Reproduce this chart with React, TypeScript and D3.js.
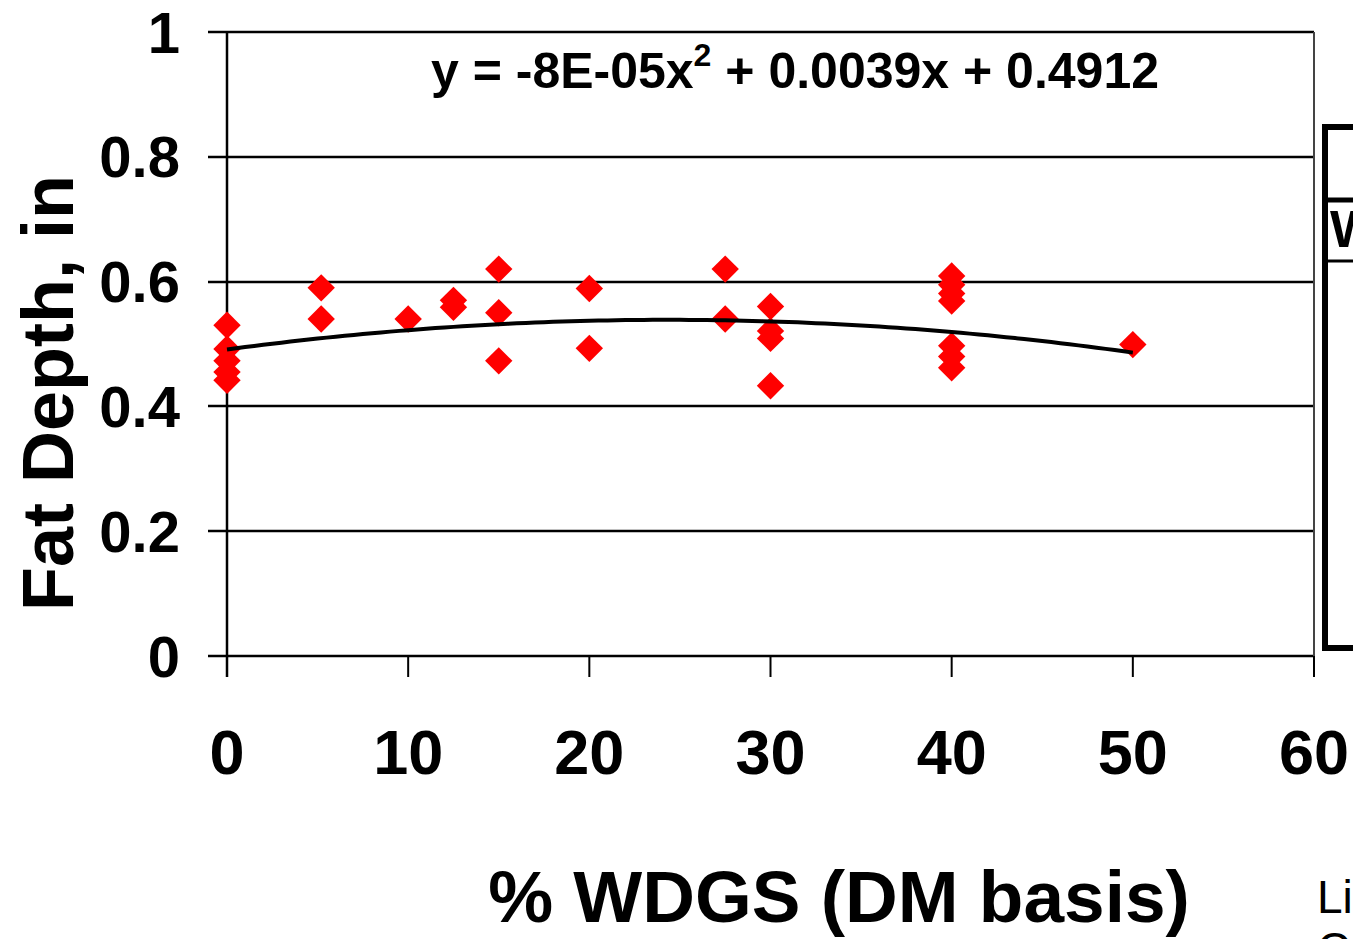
import React from "react";
import * as d3 from "d3";

// % WDGS inclusion (DM basis) for each observation
const wdgs: number[] = [
  0, 0, 0, 0, 0,
  5.2, 5.2,
  10,
  12.5, 12.5,
  15, 15, 15,
  20, 20,
  27.5, 27.5,
  30, 30, 30, 30,
  40, 40, 40, 40, 40, 40, 40,
  50,
];

// Fat depth (in) for each observation
const fatDepth: number[] = [
  0.53, 0.492, 0.473, 0.455, 0.442,
  0.59, 0.54,
  0.54,
  0.57, 0.559,
  0.62, 0.55, 0.473,
  0.589, 0.493,
  0.62, 0.54,
  0.56, 0.521, 0.509, 0.433,
  0.609, 0.595, 0.581, 0.569, 0.497, 0.48, 0.462,
  0.499,
];

// Quadratic trend: y = a x^2 + b x + c
const trendCoef = { a: -8e-5, b: 0.0039, c: 0.4912 };
const trendRange: [number, number] = [0, 50];

const xTicks: number[] = [0, 10, 20, 30, 40, 50, 60];
const yTicks: number[] = [0, 0.2, 0.4, 0.6, 0.8, 1];

const FONT = "'Liberation Sans', Arial, sans-serif";

export default function App() {
  const W = 1353;
  const H = 939;
  const x = d3.scaleLinear().domain([0, 60]).range([227, 1314]);
  const y = d3.scaleLinear().domain([0, 1]).range([656, 32]);
  const yr = (v: number) => Math.round(y(v));

  const trendPts = d3
    .range(trendRange[0], trendRange[1] + 0.001, 0.5)
    .map((v) => [v, trendCoef.a * v * v + trendCoef.b * v + trendCoef.c] as [number, number]);
  const trendPath = d3
    .line<[number, number]>()
    .x((d) => x(d[0]))
    .y((d) => y(d[1]))(trendPts) as string;

  const diamond = d3.symbol().type(d3.symbolSquare).size(375)() as string;

  const fmtY = (v: number) => (v === 0 ? "0" : v === 1 ? "1" : d3.format(".1f")(v));

  return (
    <svg
      width={W}
      height={H}
      style={{ position: "absolute", left: 0, top: 0, background: "#fff" }}
      fontFamily={FONT}
    >
      <rect x={0} y={0} width={W} height={H} fill="#fff" />

      {/* horizontal gridlines with outward ticks */}
      {yTicks.map((t) => (
        <line
          key={"g" + t}
          x1={208}
          x2={x(60)}
          y1={yr(t)}
          y2={yr(t)}
          stroke="#000"
          strokeWidth={2.5}
        />
      ))}

      {/* right edge of plot area */}
      <line x1={x(60)} x2={x(60)} y1={y(1)} y2={677} stroke="#444" strokeWidth={2} />

      {/* y axis */}
      <line x1={x(0)} x2={x(0)} y1={y(1)} y2={677} stroke="#000" strokeWidth={2.5} />

      {/* x ticks */}
      {xTicks.map((t) => (
        <line key={"xt" + t} x1={x(t)} x2={x(t)} y1={y(0)} y2={677} stroke="#000" strokeWidth={2} />
      ))}

      {/* y tick labels */}
      {yTicks.map((t) => (
        <text
          key={"yl" + t}
          x={180}
          y={y(t)}
          dy="0.355em"
          textAnchor="end"
          fontSize={58}
          fontWeight="bold"
        >
          {fmtY(t)}
        </text>
      ))}

      {/* x tick labels */}
      {xTicks.map((t) => (
        <text
          key={"xl" + t}
          x={x(t)}
          y={774}
          textAnchor="middle"
          fontSize={63}
          fontWeight="bold"
        >
          {t}
        </text>
      ))}

      {/* data points */}
      {wdgs.map((v, i) => (
        <path
          key={"p" + i}
          d={diamond}
          transform={`translate(${x(v)},${y(fatDepth[i])}) rotate(45)`}
          fill="#ff0000"
        />
      ))}

      {/* polynomial trendline */}
      <path d={trendPath} fill="none" stroke="#000" strokeWidth={4} strokeLinejoin="round" />

      {/* trend equation */}
      <text x={795} y={88} textAnchor="middle" fontSize={50} fontWeight="bold">
        y = -8E-05x
        <tspan fontSize={32} dy={-22}>2</tspan>
        <tspan dy={22}> + 0.0039x + 0.4912</tspan>
      </text>

      {/* axis titles */}
      <text
        transform="translate(73,393) rotate(-90)"
        textAnchor="middle"
        fontSize={72}
        fontWeight="bold"
      >
        Fat Depth, in
      </text>
      <text x={839} y={922} textAnchor="middle" fontSize={73} fontWeight="bold">
        % WDGS (DM basis)
      </text>

      {/* legend box (partly off the right edge) */}
      <rect x={1325} y={127} width={80} height={521} fill="none" stroke="#000" strokeWidth={6} />
      <line x1={1325} x2={W} y1={200} y2={200} stroke="#000" strokeWidth={5} />
      <line x1={1325} x2={W} y1={261} y2={261} stroke="#000" strokeWidth={3} />
      <text x={1330} y={247} fontSize={52} fontWeight="bold">
        W
      </text>

      {/* side note, clipped by the page edge */}
      <text x={1317} y={913} fontSize={46}>
        Li
      </text>
      <text x={1317} y={965} fontSize={46}>
        C
      </text>
    </svg>
  );
}
